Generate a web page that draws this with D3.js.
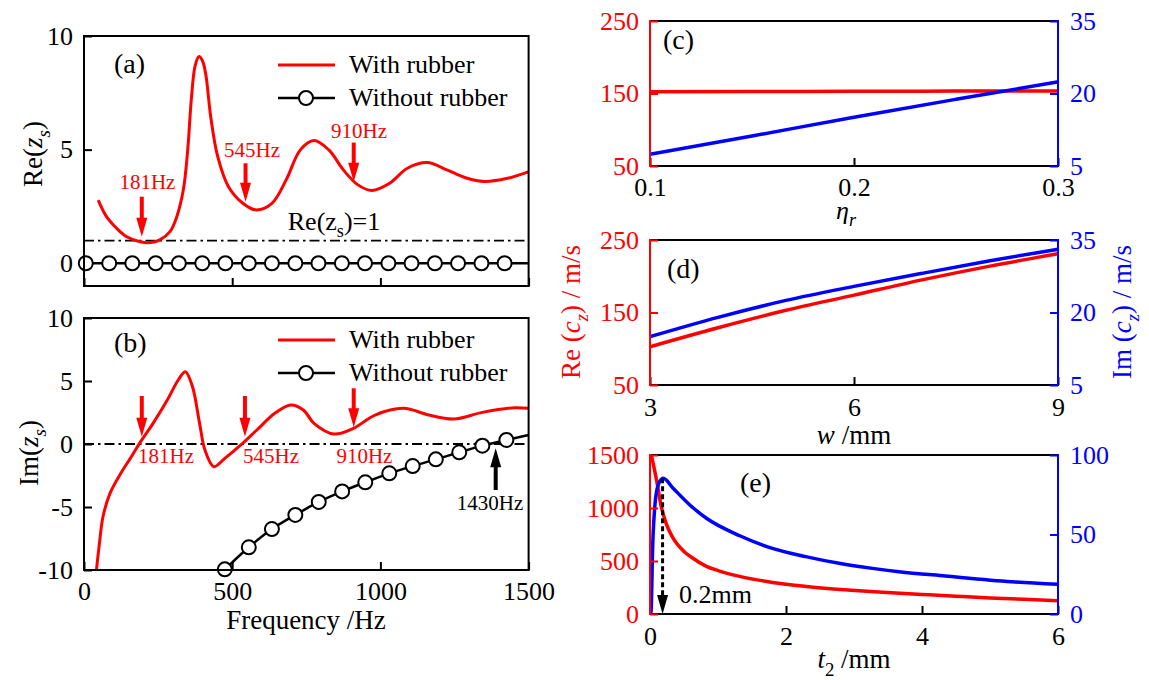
<!DOCTYPE html>
<html lang="en">
<head>
<meta charset="UTF-8">
<script src="https://d3js.org/d3.v7.min.js"></script>
<style>
  body { margin: 0; background: #fff; }
  svg, svg text { font-family: "Liberation Serif", "Times New Roman", serif; }
</style>
</head>
<body>
<script>
// ---------- data ----------
// (a) real part of surface impedance
var reFreq = [48, 76, 110, 144, 189, 223, 256, 290, 313, 335, 350, 362, 375, 388, 400, 411, 428, 451, 487, 536, 579, 634, 682, 730, 776, 826, 875, 923, 971, 1031, 1091, 1158, 1224, 1290, 1350, 1429, 1499];
var reWith = [2.78, 2.05, 1.54, 1.17, 0.95, 0.91, 1.03, 1.39, 2.05, 3.22, 5.0, 7.2, 8.7, 9.1, 8.9, 8.3, 6.4, 4.7, 3.38, 2.64, 2.35, 2.64, 3.67, 4.99, 5.4, 4.99, 4.11, 3.46, 3.2, 3.52, 4.18, 4.43, 4.11, 3.75, 3.6, 3.74, 4.02];
var reNoFreq = [6, 85, 163, 242, 320, 399, 477, 556, 634, 713, 791, 870, 948, 1027, 1105, 1184, 1262, 1341, 1419];
var reNo = [0, 0, 0, 0, 0, 0, 0, 0, 0, 0, 0, 0, 0, 0, 0, 0, 0, 0, 0];
var reNoLineFreq = [0, 1500];
var reNoLine = [0, 0];

// (b) imaginary part of surface impedance
var imFreq = [42, 52, 64, 88, 124, 160, 191, 233, 281, 318, 342, 366, 390, 408, 438, 475, 535, 583, 644, 698, 740, 776, 843, 909, 982, 1078, 1163, 1247, 1344, 1453, 1499];
var imWith = [-10, -7.9, -5.77, -3.9, -2.33, -1.0, 0.19, 1.64, 3.49, 5.08, 5.74, 4.55, 1.64, -0.48, -1.8, -1.14, 0.05, 1.11, 2.44, 3.1, 2.7, 1.64, 0.79, 1.24, 2.3, 2.83, 2.3, 1.98, 2.51, 2.88, 2.83];
var imNoFreq = [475, 556, 634, 713, 792, 871, 949, 1030, 1109, 1187, 1266, 1344, 1425];
var imNo = [-9.95, -8.2, -6.75, -5.63, -4.6, -3.76, -3.04, -2.33, -1.75, -1.22, -0.66, -0.13, 0.32];
var imNoLineFreq = [450, 475, 556, 634, 713, 792, 871, 949, 1030, 1109, 1187, 1266, 1344, 1425, 1500];
var imNoLine = [-10.5, -9.95, -8.2, -6.75, -5.63, -4.6, -3.76, -3.04, -2.33, -1.75, -1.22, -0.66, -0.13, 0.32, 0.71];

// annotations (a)
var arrowFreqA = [195, 545, 910];
var arrowTailA = [2.93, 4.4, 5.31];
var arrowTipA = [1.17, 2.71, 3.59];
var labelFreqA = [214, 567, 928];
var labelValA = [3.27, 4.69, 5.51];
var labelTextA = ["181Hz", "545Hz", "910Hz"];

// annotations (b)
var arrowFreqB = [195, 543, 910];
var arrowTailB = [3.81, 3.81, 4.42];
var arrowTipB = [0.58, 0.58, 1.33];
var labelFreqB = [277, 631, 946];
var labelValB = [-1.51, -1.51, -1.51];
var labelTextB = ["181Hz", "545Hz", "910Hz"];
var arrowFreqB2 = 1389, arrowTailB2 = -3.65, arrowTipB2 = -0.34, labelFreqB2 = 1370, labelValB2 = -5.24;

// (c) versus loss factor
var etaR = [0.1, 0.15, 0.2, 0.25, 0.3];
var reCeta = [152.5, 152.8, 153, 153.3, 153.6];
var imCeta = [7.4, 11.2, 15.1, 18.8, 22.4];

// (d) versus width
var widthW = [3, 4, 5, 6, 7, 8, 9];
var reCw = [102.8, 129, 153, 174, 195, 214, 231];
var imCw = [15.0, 19.0, 22.5, 25.4, 28.1, 30.7, 33.1];

// (e) versus thickness
var t2Re = [0.02, 0.1, 0.16, 0.24, 0.34, 0.5, 0.6, 0.83, 1.0, 1.32, 1.8, 2.3, 2.8, 3.3, 4.0, 4.5, 5.0, 5.5, 6.0];
var reCt = [1500, 1250, 1030, 850, 715, 590, 540, 450, 410, 355, 298, 260, 232, 210, 185, 168, 152, 138, 125];
var t2Im = [0, 0.015, 0.04, 0.073, 0.12, 0.195, 0.34, 0.586, 0.83, 1.32, 1.8, 2.29, 2.78, 3.27, 3.66, 4.34, 5.32, 6.0];
var imCt = [0, 1.5, 43.4, 68.6, 81.1, 85.3, 79.1, 68.6, 60.2, 49.2, 41.3, 36.1, 31.9, 28.7, 26.6, 23.9, 20.3, 18.7];
var peakT = 0.185, peakIm = 85.3;

var red = "#ff0000", blue = "#0000ff";
var serif = "Liberation Serif, Times New Roman, serif";

var svg = d3.select("body").append("svg").attr("width", 1149).attr("height", 680)
    .attr("font-family", serif);
var defs = svg.append("defs");

// text with italic / subscript pieces: parts = [[str, style]]
function addText(g, x, y, parts, o) {
    var fs = o.size || 26;
    var t = g.append("text").attr("x", x).attr("y", y)
        .attr("font-family", serif)
        .attr("font-size", fs).attr("fill", o.color || "#000")
        .attr("text-anchor", o.anchor || "start");
    if (o.rotate) t.attr("transform", "rotate(-90," + x + "," + y + ")");
    var shift = 0;
    parts.forEach(function (p) {
        var s = t.append("tspan").text(p[0]);
        var sub = p[1].indexOf("sub") >= 0;
        if (p[1].indexOf("i") === 0) s.attr("font-style", "italic");
        var target = sub ? fs * 0.28 : 0;
        if (target !== shift) { s.attr("dy", target - shift); shift = target; }
        if (sub) s.attr("font-size", fs * 0.7);
    });
    return t;
}

function arrow(g, x, yTail, yTip, color, dashed) {
    var dir = yTip > yTail ? 1 : -1;
    var yBase = yTip - dir * 19;
    g.append("line").attr("x1", x).attr("x2", x).attr("y1", yTail).attr("y2", yBase + dir)
        .attr("stroke", color).attr("stroke-width", dashed ? 3 : 4)
        .attr("stroke-dasharray", dashed ? "5,3" : null);
    g.append("path")
        .attr("d", "M" + (x - 5.5) + "," + yBase + "L" + (x + 5.5) + "," + yBase + "L" + x + "," + yTip + "Z")
        .attr("fill", color);
}

function styleAxis(sel, color) {
    sel.attr("font-size", 26).attr("font-family", serif).attr("color", color);
    sel.select(".domain").remove();
    sel.selectAll(".tick line").attr("stroke-width", 2);
    sel.selectAll(".tick text").attr("font-family", serif);
}

function clip(id, x0, y0, x1, y1) {
    defs.append("clipPath").attr("id", id).append("rect")
        .attr("x", x0).attr("y", y0).attr("width", x1 - x0).attr("height", y1 - y0);
}

function zip(xs, ys) { return xs.map(function (x, i) { return [x, ys[i]]; }); }

var fmt = function (d) { return String(d); };

// ---------- panels (a) and (b) ----------
var xF = d3.scaleLinear().domain([0, 1500]).range([84, 528.6]);
var yA = d3.scaleLinear().domain([-1, 10]).range([286, 36]);
var yB = d3.scaleLinear().domain([-10, 10]).range([570, 318]);
clip("clipA", 84, 36, 528.6, 286);
clip("clipB", 84, 318, 528.6, 570);

function drawLeftPanel(y, yTicks, showX) {
    var g = svg.append("g");
    g.append("g").attr("transform", "translate(84,0)")
        .call(d3.axisLeft(y).tickValues(yTicks).tickSizeInner(-8).tickSizeOuter(0).tickPadding(11).tickFormat(fmt))
        .call(styleAxis, "#000");
    var xa = g.append("g").attr("transform", "translate(0," + y.range()[0] + ")")
        .call(d3.axisBottom(xF).tickValues([0, 500, 1000, 1500]).tickSizeInner(-8).tickSizeOuter(0).tickPadding(12).tickFormat(fmt))
        .call(styleAxis, "#000");
    if (!showX) xa.selectAll("text").remove();
    return g;
}

var gA = drawLeftPanel(yA, [0, 5, 10], false);
var gB = drawLeftPanel(yB, [-10, -5, 0, 5, 10], true);

var dashDot = "10,4,2.5,4";
gA.append("line").attr("x1", 84).attr("x2", 528.6).attr("y1", yA(1)).attr("y2", yA(1))
    .attr("stroke", "#000").attr("stroke-width", 1.8).attr("stroke-dasharray", dashDot);
gB.append("line").attr("x1", 84).attr("x2", 528.6).attr("y1", yB(0)).attr("y2", yB(0))
    .attr("stroke", "#000").attr("stroke-width", 1.8).attr("stroke-dasharray", dashDot);

var lineA = d3.line().x(function (d) { return xF(d[0]); }).y(function (d) { return yA(d[1]); }).curve(d3.curveCatmullRom.alpha(0.5));
var lineB = d3.line().x(function (d) { return xF(d[0]); }).y(function (d) { return yB(d[1]); }).curve(d3.curveCatmullRom.alpha(0.5));

gA.append("path").datum(zip(reNoLineFreq, reNoLine)).attr("d", lineA)
    .attr("fill", "none").attr("stroke", "#000").attr("stroke-width", 2.5);
gA.selectAll("circle.m").data(zip(reNoFreq, reNo)).join("circle").attr("class", "m")
    .attr("cx", function (d) { return xF(d[0]); }).attr("cy", function (d) { return yA(d[1]); })
    .attr("r", 7).attr("fill", "#fff").attr("stroke", "#000").attr("stroke-width", 2);
gA.append("path").datum(zip(reFreq, reWith)).attr("d", lineA).attr("clip-path", "url(#clipA)")
    .attr("fill", "none").attr("stroke", red).attr("stroke-width", 3);

gB.append("path").datum(zip(imNoLineFreq, imNoLine)).attr("d", lineB).attr("clip-path", "url(#clipB)")
    .attr("fill", "none").attr("stroke", "#000").attr("stroke-width", 2.5);
gB.selectAll("circle.m").data(zip(imNoFreq, imNo)).join("circle").attr("class", "m")
    .attr("cx", function (d) { return xF(d[0]); }).attr("cy", function (d) { return yB(d[1]); })
    .attr("r", 7).attr("fill", "#fff").attr("stroke", "#000").attr("stroke-width", 2);
gB.append("path").datum(zip(imFreq, imWith)).attr("d", lineB).attr("clip-path", "url(#clipB)")
    .attr("fill", "none").attr("stroke", red).attr("stroke-width", 3);

// frames
gA.append("rect").attr("x", 84).attr("y", 36).attr("width", 444.6).attr("height", 250)
    .attr("fill", "none").attr("stroke", "#000").attr("stroke-width", 2);
gB.append("rect").attr("x", 84).attr("y", 318).attr("width", 444.6).attr("height", 252)
    .attr("fill", "none").attr("stroke", "#000").attr("stroke-width", 2);

// arrows and frequency labels
arrowFreqA.forEach(function (f, i) {
    arrow(gA, xF(f), yA(arrowTailA[i]), yA(arrowTipA[i]), red, false);
    addText(gA, xF(labelFreqA[i]), yA(labelValA[i]), [[labelTextA[i], ""]], { size: 21, color: red, anchor: "middle" });
});
arrowFreqB.forEach(function (f, i) {
    arrow(gB, xF(f), yB(arrowTailB[i]), yB(arrowTipB[i]), red, false);
    addText(gB, xF(labelFreqB[i]), yB(labelValB[i]), [[labelTextB[i], ""]], { size: 21, color: red, anchor: "middle" });
});
arrow(gB, xF(arrowFreqB2), yB(arrowTailB2), yB(arrowTipB2), "#000", false);
addText(gB, xF(labelFreqB2), yB(labelValB2), [["1430Hz", ""]], { size: 21, anchor: "middle" });

addText(gA, 334, 230, [["Re(z", ""], ["s", "sub"], [")=1", ""]], { anchor: "middle" });

// panel letters and legends
addText(gA, 114, 73, [["(a)", ""]], { size: 28 });
addText(gB, 114, 352, [["(b)", ""]], { size: 28 });

function legend(g, y1, y2) {
    g.append("line").attr("x1", 278).attr("x2", 335).attr("y1", y1).attr("y2", y1).attr("stroke", red).attr("stroke-width", 3);
    addText(g, 349, y1 + 8, [["With rubber", ""]], {});
    g.append("line").attr("x1", 278).attr("x2", 335).attr("y1", y2).attr("y2", y2).attr("stroke", "#000").attr("stroke-width", 2.5);
    g.append("circle").attr("cx", 306).attr("cy", y2).attr("r", 7).attr("fill", "#fff").attr("stroke", "#000").attr("stroke-width", 2);
    addText(g, 349, y2 + 8, [["Without rubber", ""]], {});
}
legend(gA, 65, 98);
legend(gB, 340, 373);

// axis titles
addText(svg, 42, 154, [["Re(", ""], ["z", "i"], ["s", "isub"], [")", ""]], { size: 27, anchor: "middle", rotate: true });
addText(svg, 38, 453, [["Im(", ""], ["z", "i"], ["s", "isub"], [")", ""]], { size: 27, anchor: "middle", rotate: true });
addText(svg, 306, 629, [["Frequency /Hz", ""]], { size: 27, anchor: "middle" });

// ---------- panels (c), (d), (e) ----------
function drawRightPanel(o) {
    var g = svg.append("g");
    var x = d3.scaleLinear().domain(o.xDom).range([650, 1058]);
    var yl = d3.scaleLinear().domain(o.lDom).range([o.y1, o.y0]);
    var yr = d3.scaleLinear().domain(o.rDom).range([o.y1, o.y0]);
    clip(o.id, 650, o.y0, 1058, o.y1);

    g.append("g").attr("transform", "translate(0," + o.y1 + ")")
        .call(d3.axisBottom(x).tickValues(o.xTicks).tickSizeInner(-8).tickSizeOuter(0).tickPadding(o.xPad || 13).tickFormat(fmt))
        .call(styleAxis, "#000");
    g.append("line").attr("x1", 650).attr("x2", 1058).attr("y1", o.y0).attr("y2", o.y0).attr("stroke", "#000").attr("stroke-width", 2);
    g.append("line").attr("x1", 650).attr("x2", 1058).attr("y1", o.y1).attr("y2", o.y1).attr("stroke", "#000").attr("stroke-width", 2);

    var lineL = d3.line().x(function (d) { return x(d[0]); }).y(function (d) { return yl(d[1]); }).curve(d3.curveMonotoneX);
    var lineR = d3.line().x(function (d) { return x(d[0]); }).y(function (d) { return yr(d[1]); }).curve(d3.curveMonotoneX);
    g.append("path").datum(o.reData).attr("d", lineL).attr("clip-path", "url(#" + o.id + ")")
        .attr("fill", "none").attr("stroke", red).attr("stroke-width", 3.5);
    g.append("path").datum(o.imData).attr("d", lineR).attr("clip-path", "url(#" + o.id + ")")
        .attr("fill", "none").attr("stroke", blue).attr("stroke-width", 3.5);

    g.append("line").attr("x1", 650).attr("x2", 650).attr("y1", o.y0 - 1).attr("y2", o.y1 + 1).attr("stroke", red).attr("stroke-width", 2);
    g.append("line").attr("x1", 1058).attr("x2", 1058).attr("y1", o.y0 - 1).attr("y2", o.y1 + 1).attr("stroke", blue).attr("stroke-width", 2);
    g.append("g").attr("transform", "translate(650,0)")
        .call(d3.axisLeft(yl).tickValues(o.lTicks).tickSizeInner(-8).tickSizeOuter(0).tickPadding(11).tickFormat(fmt))
        .call(styleAxis, red);
    g.append("g").attr("transform", "translate(1058,0)")
        .call(d3.axisRight(yr).tickValues(o.rTicks).tickSizeInner(-8).tickSizeOuter(0).tickPadding(12).tickFormat(fmt))
        .call(styleAxis, blue);
    return { g: g, x: x, yl: yl, yr: yr };
}

var pc = drawRightPanel({
    id: "clipC", y0: 21, y1: 166, xDom: [0.1, 0.3], lDom: [50, 250], rDom: [5, 35],
    xTicks: [0.1, 0.2, 0.3], lTicks: [50, 150, 250], rTicks: [5, 20, 35], xPad: 12,
    reData: zip(etaR, reCeta), imData: zip(etaR, imCeta)
});
var pd = drawRightPanel({
    id: "clipD", y0: 240, y1: 385, xDom: [3, 9], lDom: [50, 250], rDom: [5, 35],
    xTicks: [3, 6, 9], lTicks: [50, 150, 250], rTicks: [5, 20, 35],
    reData: zip(widthW, reCw), imData: zip(widthW, imCw)
});
var pe = drawRightPanel({
    id: "clipE", y0: 455, y1: 614, xDom: [0, 6], lDom: [0, 1500], rDom: [0, 100],
    xTicks: [0, 2, 4, 6], lTicks: [0, 500, 1000, 1500], rTicks: [0, 50, 100],
    reData: zip(t2Re, reCt), imData: zip(t2Im, imCt)
});

// dashed arrow at the peak in (e)
arrow(pe.g, pe.x(peakT), pe.yr(peakIm), pe.yr(0), "#000", true);
addText(pe.g, 679, 603, [["0.2mm", ""]], {});

addText(svg, 663, 49, [["(c)", ""]], { size: 28 });
addText(svg, 667, 278, [["(d)", ""]], { size: 28 });
addText(svg, 740, 492, [["(e)", ""]], { size: 28 });

addText(svg, 846, 219, [["\u03b7", "i"], ["r", "isub"]], { size: 26, anchor: "middle" });
addText(svg, 854, 444, [["w", "i"], [" /mm", ""]], { size: 27, anchor: "middle" });
addText(svg, 854, 668, [["t", "i"], ["2", "sub"], [" /mm", ""]], { size: 27, anchor: "middle" });
addText(svg, 580, 312, [["Re (", ""], ["c", "i"], ["z", "isub"], [") / m/s", ""]], { size: 27, color: red, anchor: "middle", rotate: true });
addText(svg, 1131, 312, [["Im (", ""], ["c", "i"], ["z", "isub"], [") / m/s", ""]], { size: 27, color: blue, anchor: "middle", rotate: true });
</script>
</body>
</html>
